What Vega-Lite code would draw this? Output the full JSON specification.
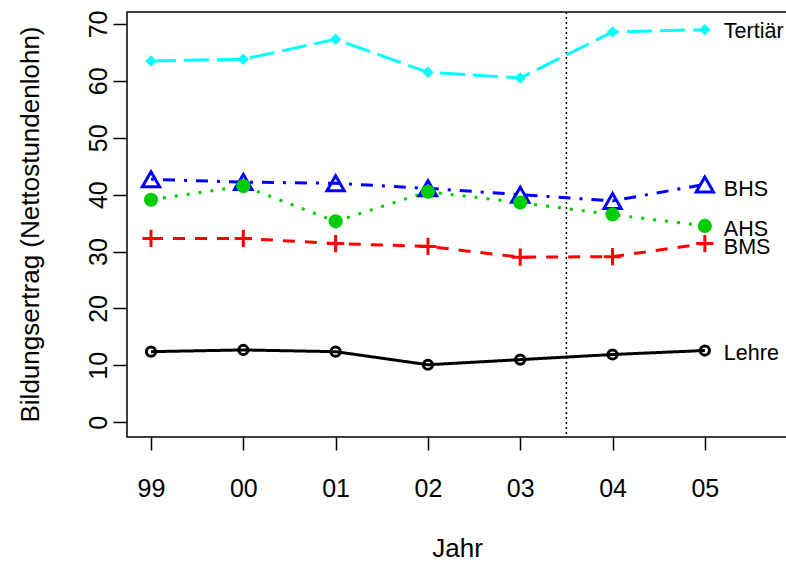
{
  "$schema": "https://vega.github.io/schema/vega-lite/v6.json",
  "width": 660,
  "height": 425,
  "autosize": {"type": "none"},
  "padding": {"left": 127, "top": 12, "right": 0, "bottom": 125},
  "background": "white",
  "config": {
    "view": {"stroke": "black", "strokeWidth": 1.5},
    "font": "Liberation Sans",
    "axis": {"grid": false, "domain": false, "tickColor": "black", "tickWidth": 1.5, "labelColor": "black", "titleColor": "black", "labelFont": "Liberation Sans", "titleFont": "Liberation Sans", "titleFontWeight": "normal"}
  },
  "datasets": {
    "series": [
      {"i": 1, "g": "Tertiär", "v": 63.5}, {"i": 2, "g": "Tertiär", "v": 63.8}, {"i": 3, "g": "Tertiär", "v": 67.3}, {"i": 4, "g": "Tertiär", "v": 61.5}, {"i": 5, "g": "Tertiär", "v": 60.5}, {"i": 6, "g": "Tertiär", "v": 68.6}, {"i": 7, "g": "Tertiär", "v": 69.0},
      {"i": 1, "g": "BHS", "v": 42.7}, {"i": 2, "g": "BHS", "v": 42.2}, {"i": 3, "g": "BHS", "v": 42.0}, {"i": 4, "g": "BHS", "v": 41.1}, {"i": 5, "g": "BHS", "v": 40.0}, {"i": 6, "g": "BHS", "v": 38.9}, {"i": 7, "g": "BHS", "v": 41.8},
      {"i": 1, "g": "AHS", "v": 39.1}, {"i": 2, "g": "AHS", "v": 41.5}, {"i": 3, "g": "AHS", "v": 35.3}, {"i": 4, "g": "AHS", "v": 40.5}, {"i": 5, "g": "AHS", "v": 38.6}, {"i": 6, "g": "AHS", "v": 36.5}, {"i": 7, "g": "AHS", "v": 34.5},
      {"i": 1, "g": "BMS", "v": 32.3}, {"i": 2, "g": "BMS", "v": 32.3}, {"i": 3, "g": "BMS", "v": 31.4}, {"i": 4, "g": "BMS", "v": 30.9}, {"i": 5, "g": "BMS", "v": 29.0}, {"i": 6, "g": "BMS", "v": 29.1}, {"i": 7, "g": "BMS", "v": 31.4},
      {"i": 1, "g": "Lehre", "v": 12.4}, {"i": 2, "g": "Lehre", "v": 12.7}, {"i": 3, "g": "Lehre", "v": 12.4}, {"i": 4, "g": "Lehre", "v": 10.1}, {"i": 5, "g": "Lehre", "v": 11.0}, {"i": 6, "g": "Lehre", "v": 11.9}, {"i": 7, "g": "Lehre", "v": 12.6}
    ],
    "labels": [
      {"i": 7, "g": "Tertiär", "v": 68.6},
      {"i": 7, "g": "BHS", "v": 40.9},
      {"i": 7, "g": "AHS", "v": 33.7},
      {"i": 7, "g": "BMS", "v": 30.7},
      {"i": 7, "g": "Lehre", "v": 12.0}
    ],
    "vline": [{"i": 5.5}]
  },
  "layer": [
    {
      "data": {"name": "vline"},
      "mark": {"type": "rule", "color": "black", "strokeWidth": 1.5, "strokeDash": [2, 3]},
      "encoding": {
        "x": {"field": "i", "type": "quantitative", "scale": {"domain": [0.74, 7.89], "nice": false, "zero": false}}
      }
    },
    {
      "data": {"name": "series"},
      "mark": {"type": "line", "strokeWidth": 3},
      "encoding": {
        "x": {"field": "i", "type": "quantitative", "scale": {"domain": [0.74, 7.89], "nice": false, "zero": false},
          "axis": {"values": [1, 2, 3, 4, 5, 6, 7], "labelExpr": "['99','00','01','02','03','04','05'][datum.value-1]", "title": "Jahr", "tickSize": 13, "labelFontSize": 25, "labelPadding": 26, "labelBaseline": "top", "titleFontSize": 26, "titleY": 111, "titleBaseline": "middle"}},
        "y": {"field": "v", "type": "quantitative", "scale": {"domain": [-2.6, 72.1], "nice": false, "zero": false},
          "axis": {"values": [0, 10, 20, 30, 40, 50, 60, 70], "title": "Bildungsertrag (Nettostundenlohn)", "tickSize": 14, "labelAngle": -90, "labelAlign": "center", "labelBaseline": "bottom", "labelFontSize": 25, "labelPadding": 2, "titleFontSize": 26, "titleAngle": -90, "titleX": -97, "titleY": 212, "titleAlign": "center", "titleBaseline": "middle"}},
        "detail": {"field": "g"},
        "stroke": {"field": "g", "type": "nominal", "legend": null,
          "scale": {"domain": ["Tertiär", "BHS", "AHS", "BMS", "Lehre"], "range": ["#00FFFF", "#0000FF", "#00CD00", "#FF0000", "#000000"]}},
        "strokeDash": {"field": "g", "type": "nominal", "legend": null,
          "scale": {"domain": ["Tertiär", "BHS", "AHS", "BMS", "Lehre"], "range": [[25, 8], [3, 9, 12, 9], [3, 9], [12, 10], [1, 0]]}}
      }
    },
    {
      "data": {"name": "series"},
      "transform": [{"filter": "datum.g === 'Tertiär'"}],
      "mark": {"type": "point", "shape": "diamond", "filled": true, "fill": "#00FFFF", "strokeWidth": 0, "size": 130, "opacity": 1},
      "encoding": {"x": {"field": "i", "type": "quantitative"}, "y": {"field": "v", "type": "quantitative"}}
    },
    {
      "data": {"name": "series"},
      "transform": [{"filter": "datum.g === 'BHS'"}],
      "mark": {"type": "point", "shape": "triangle-up", "filled": false, "stroke": "#0000FF", "strokeWidth": 3, "size": 300, "opacity": 1},
      "encoding": {"x": {"field": "i", "type": "quantitative"}, "y": {"field": "v", "type": "quantitative"}}
    },
    {
      "data": {"name": "series"},
      "transform": [{"filter": "datum.g === 'AHS'"}],
      "mark": {"type": "point", "shape": "circle", "filled": true, "fill": "#00CD00", "strokeWidth": 0, "size": 200, "opacity": 1},
      "encoding": {"x": {"field": "i", "type": "quantitative"}, "y": {"field": "v", "type": "quantitative"}}
    },
    {
      "data": {"name": "series"},
      "transform": [{"filter": "datum.g === 'BMS'"}],
      "mark": {"type": "point", "shape": "M-1,0L1,0M0,-1L0,1", "filled": false, "stroke": "#FF0000", "strokeWidth": 3, "size": 300, "opacity": 1},
      "encoding": {"x": {"field": "i", "type": "quantitative"}, "y": {"field": "v", "type": "quantitative"}}
    },
    {
      "data": {"name": "series"},
      "transform": [{"filter": "datum.g === 'Lehre'"}],
      "mark": {"type": "point", "shape": "circle", "filled": false, "stroke": "#000000", "strokeWidth": 3, "size": 85, "opacity": 1},
      "encoding": {"x": {"field": "i", "type": "quantitative"}, "y": {"field": "v", "type": "quantitative"}}
    },
    {
      "data": {"name": "labels"},
      "mark": {"type": "text", "align": "left", "baseline": "middle", "dx": 19, "fontSize": 21.5, "color": "black", "font": "Liberation Sans"},
      "encoding": {
        "x": {"field": "i", "type": "quantitative"},
        "y": {"field": "v", "type": "quantitative"},
        "text": {"field": "g"}
      }
    }
  ]
}
